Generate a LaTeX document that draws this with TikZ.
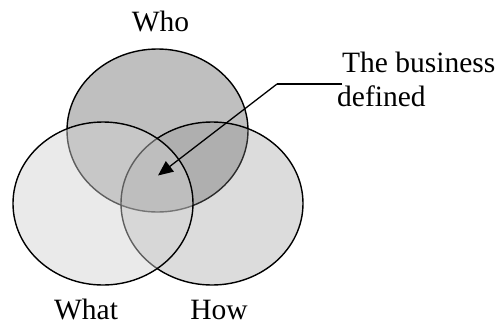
\documentclass[tikz,border=0pt]{standalone}
\usepackage{fontspec}
\setmainfont{Liberation Serif}
\usepackage{tikz}
\usetikzlibrary{positioning,calc,arrows.meta,shapes.geometric}
\definecolor{vtop}{gray}{0.75}
\definecolor{vright}{gray}{0.55}
\definecolor{vleft}{gray}{0.82}

\begin{document}
\begin{tikzpicture}[x=1pt, y=-1pt, font=\fontsize{29.5}{33}\selectfont,
  set/.style={ellipse, draw=black, line width=1.4pt, inner sep=0pt},
  lbl/.style={anchor=base, inner sep=0pt},
  arr/.style={-{Triangle[length=15pt, width=13pt]}, line width=1.3pt}]
  \useasboundingbox (0,0) rectangle (499,325);
  % --- the three sets, back to front
  \node[set, fill=vtop, minimum width=181pt, minimum height=163pt] (who) at (157.5,130.5) {};
  \node[set, fill=vright, fill opacity=0.30, minimum width=182pt, minimum height=163pt] (how) at (212,203.5) {};
  \node[set, fill=vleft, fill opacity=0.45, minimum width=180pt, minimum height=163pt] (what) at (103,203.5) {};
  % --- labels
  \node[lbl] (whot)  at (160.5,31.5) {Who};
  \node[lbl] (whatt) at (86,319.5)   {What};
  \node[lbl] (howt)  at (219,319.5)  {How};
  \node[lbl, anchor=base west] (biz) at (342,72.5) {The business};
  \node[lbl, anchor=base west] (def) at (337,106.5) {defined};
  % --- pointer into the middle
  \coordinate (bend) at (277,84);
  \coordinate (core) at (158,175.5);
  \draw[line width=1.3pt] (biz.west |- bend) -- (bend);
  \draw[arr] (bend) -- (core);
\end{tikzpicture}
\end{document}
